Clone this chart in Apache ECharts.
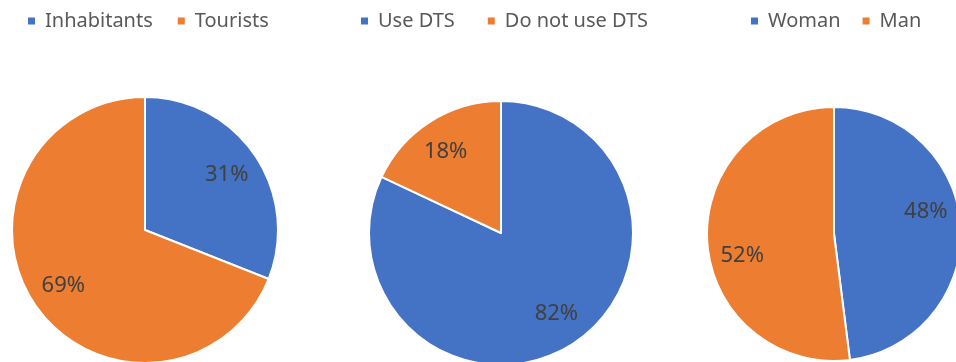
<!DOCTYPE html>
<html>
<head>
<meta charset="utf-8">
<script src="https://cdn.jsdelivr.net/npm/echarts@6/dist/echarts.min.js"></script>
<style>
  html, body { margin: 0; padding: 0; background: #fff; }
  #c1 { width: 956px; height: 362px; }
</style>
</head>
<body>
<div id="c1"></div>
<script>
var visitorNames = ["Inhabitants", "Tourists"];
var visitorValues = [31, 69];
var dtsNames = ["Use DTS", "Do not use DTS"];
var dtsValues = [82, 18];
var genderNames = ["Woman", "Man"];
var genderValues = [48, 52];

var blue = "#4472C4";
var orange = "#ED7D31";
var font = "Noto Sans";

function toData(names, values) {
  var out = [];
  for (var i = 0; i < names.length; i++) {
    out.push({ name: names[i], value: values[i] });
  }
  return out;
}

// main pie (no labels) + transparent ring carrying the labels further out
function pies(names, values, center, r, labelStart) {
  return [
    {
      type: "pie",
      center: center,
      radius: [0, r],
      startAngle: 90,
      clockwise: true,
      data: toData(names, values),
      label: { show: false },
      labelLine: { show: false },
      itemStyle: { borderColor: "#fff", borderWidth: 2 },
      emphasis: { scale: false },
    },
    {
      type: "pie",
      center: center,
      radius: [r * 0.44, r],
      startAngle: labelStart,
      clockwise: true,
      silent: true,
      data: toData(names, values),
      itemStyle: { color: "transparent" },
      label: {
        show: true,
        position: "inside",
        color: "#404040",
        fontFamily: font,
        fontSize: 22,
        formatter: "{c}%",
      },
      labelLine: { show: false },
    },
  ];
}

function legend(names, left, gap) {
  return {
    data: names,
    left: left,
    top: 9,
    padding: 0,
    itemWidth: 9,
    itemHeight: 9,
    itemGap: gap,
    icon: "rect",
    selectedMode: false,
    textStyle: {
      color: "#595959",
      fontFamily: font,
      fontSize: 20,
      lineHeight: 24,
      padding: [0, 0, 0, 4],
    },
  };
}

var myChart = echarts.init(document.getElementById("c1"));
var option = {
  color: [blue, orange],
  animation: false,
  legend: [
    legend(visitorNames, 26, 23),
    legend(dtsNames, 359, 31),
    legend(genderNames, 749, 20),
  ],
  series: []
    .concat(pies(visitorNames, visitorValues, [145, 230], 133, 90))
    .concat(pies(dtsNames, dtsValues, [501, 233], 132, 92))
    .concat(pies(genderNames, genderValues, [834, 234], 127, 100)),
};
myChart.setOption(option);
</script>
</body>
</html>
